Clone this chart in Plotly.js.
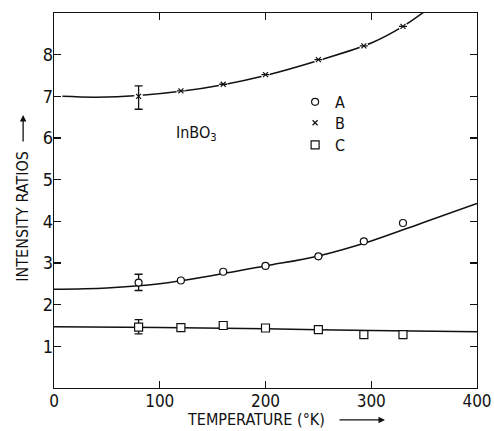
<!DOCTYPE html>
<html>
<head>
<meta charset="utf-8">
<script src="https://cdn.plot.ly/plotly-3.0.1.min.js"></script>
<style>
  html, body { margin: 0; padding: 0; background: #fff; }
  #chart { width: 494px; height: 431px; }
</style>
</head>
<body>
<div id="chart"></div>
<script>
// Measured temperatures (K) and intensity ratios of the three lines
const tempPts = [80, 120, 160, 200, 250, 293, 330];
const ratioA = [2.53, 2.58, 2.79, 2.93, 3.16, 3.52, 3.96];
const ratioB = [7.00, 7.13, 7.29, 7.52, 7.88, 8.21, 8.68];
const ratioC = [1.46, 1.45, 1.50, 1.44, 1.40, 1.28, 1.28];

// Error bars (only the 80 K point carries one)
const errUpA = [0.20, 0, 0, 0, 0, 0, 0];
const errDnA = [0.19, 0, 0, 0, 0, 0, 0];
const errUpB = [0.25, 0, 0, 0, 0, 0, 0];
const errDnB = [0.31, 0, 0, 0, 0, 0, 0];
const errUpC = [0.18, 0, 0, 0, 0, 0, 0];
const errDnC = [0.16, 0, 0, 0, 0, 0, 0];

// Smooth curves through the data
const curveTempA = [0, 50, 100, 150, 200, 250, 300, 350, 400];
const curveA = [2.37, 2.40, 2.50, 2.70, 2.93, 3.17, 3.53, 3.98, 4.43];
const curveTempB = [8, 40, 80, 120, 160, 200, 250, 300, 330, 356];
const curveB = [7.00, 6.98, 7.02, 7.12, 7.28, 7.50, 7.86, 8.28, 8.68, 9.14];
const curveTempC = [0, 100, 200, 300, 400];
const curveC = [1.47, 1.45, 1.42, 1.38, 1.35];

const xTicks = [0, 100, 200, 300, 400];
const yTicks = [1, 2, 3, 4, 5, 6, 7, 8];

const INK = '#111';
const FONT = '"DejaVu Sans Condensed", "DejaVu Sans", sans-serif';

function curve(x, y) {
  return {
    x: x, y: y, type: 'scatter', mode: 'lines', showlegend: false,
    hoverinfo: 'skip',
    line: { color: INK, width: 1.5, shape: 'spline', smoothing: 1 }
  };
}
function errs(up, dn) {
  return {
    type: 'data', symmetric: false, array: up, arrayminus: dn,
    color: INK, thickness: 1.3, width: 4
  };
}

const traces = [
  curve(curveTempA, curveA),
  curve(curveTempB, curveB),
  curve(curveTempC, curveC),
  // white halo that opens a gap in curve B around each x mark
  {
    x: tempPts, y: ratioB, type: 'scatter', mode: 'markers', showlegend: false,
    hoverinfo: 'skip',
    marker: { symbol: 'circle', size: 9, color: '#fff', line: { width: 0 } }
  },
  {
    name: 'A', legend: 'legend', x: tempPts, y: ratioA, type: 'scatter', mode: 'markers',
    error_y: errs(errUpA, errDnA),
    marker: { symbol: 'circle', size: 7, color: '#fff', line: { color: INK, width: 1.2 } }
  },
  {
    name: 'B', legend: 'legend2', x: tempPts, y: ratioB, type: 'scatter', mode: 'markers',
    error_y: errs(errUpB, errDnB),
    marker: { symbol: 'x-thin', size: 5, color: INK, line: { color: INK, width: 1.2 } }
  },
  {
    name: 'C', legend: 'legend3', x: tempPts, y: ratioC, type: 'scatter', mode: 'markers',
    error_y: errs(errUpC, errDnC),
    marker: { symbol: 'square', size: 8, color: '#fff', line: { color: INK, width: 1.2 } }
  }
];

const axisCommon = {
  showline: true, linecolor: INK, linewidth: 1.3, mirror: 'ticks',
  ticks: 'inside', ticklen: 7, tickwidth: 1.2, tickcolor: INK,
  showgrid: false, zeroline: false
};

function legendAt(yPaper) {
  return {
    x: 0.57, y: yPaper, xanchor: 'left', yanchor: 'middle',
    bgcolor: 'rgba(0,0,0,0)', borderwidth: 0,
    font: { family: FONT, size: 16, color: INK }
  };
}

const titleFont = { family: FONT, size: 16, color: INK };

const layout = {
  width: 494, height: 431,
  margin: { l: 54, r: 17, t: 13, b: 43 },
  paper_bgcolor: '#fff', plot_bgcolor: '#fff',
  font: { family: FONT, color: INK },
  showlegend: true,
  legend: legendAt(0.763),
  legend2: legendAt(0.707),
  legend3: legendAt(0.648),
  xaxis: Object.assign({}, axisCommon, {
    range: [0, 400], tickvals: xTicks, ticktext: xTicks.map(String),
    tickfont: { family: FONT, size: 17, color: INK }, ticklabelstandoff: -3
  }),
  yaxis: Object.assign({}, axisCommon, {
    range: [0, 9], tickvals: yTicks, ticktext: yTicks.map(String),
    tickfont: { family: FONT, size: 18, color: INK }, ticklabelstandoff: -4
  }),
  annotations: [
    {
      xref: 'x', yref: 'y', x: 113, y: 6.1, xanchor: 'left', yanchor: 'middle',
      text: 'InBO<sub>3</sub>', showarrow: false, font: titleFont
    },
    // axis titles
    {
      xref: 'paper', yref: 'paper', x: 0.478, y: -0.085, xanchor: 'center', yanchor: 'middle',
      text: 'TEMPERATURE (°K)', showarrow: false, font: titleFont
    },
    {
      xref: 'paper', yref: 'paper', x: -0.073, y: 0.457, xanchor: 'center', yanchor: 'middle',
      text: 'INTENSITY RATIOS', textangle: -90, showarrow: false, font: titleFont
    },
    // direction arrows beside the axis titles
    {
      xref: 'paper', yref: 'paper', x: 0.7825, y: -0.085, text: '', showarrow: true,
      axref: 'pixel', ayref: 'pixel', ax: -47, ay: 0,
      arrowhead: 2, arrowsize: 1, arrowwidth: 1.3, arrowcolor: INK
    },
    {
      xref: 'paper', yref: 'paper', x: -0.073, y: 0.728, text: '', showarrow: true,
      axref: 'pixel', ayref: 'pixel', ax: 0, ay: 28,
      arrowhead: 2, arrowsize: 1, arrowwidth: 1.3, arrowcolor: INK
    }
  ]
};

Plotly.newPlot('chart', traces, layout, { displayModeBar: false, staticPlot: true });
</script>
</body>
</html>
